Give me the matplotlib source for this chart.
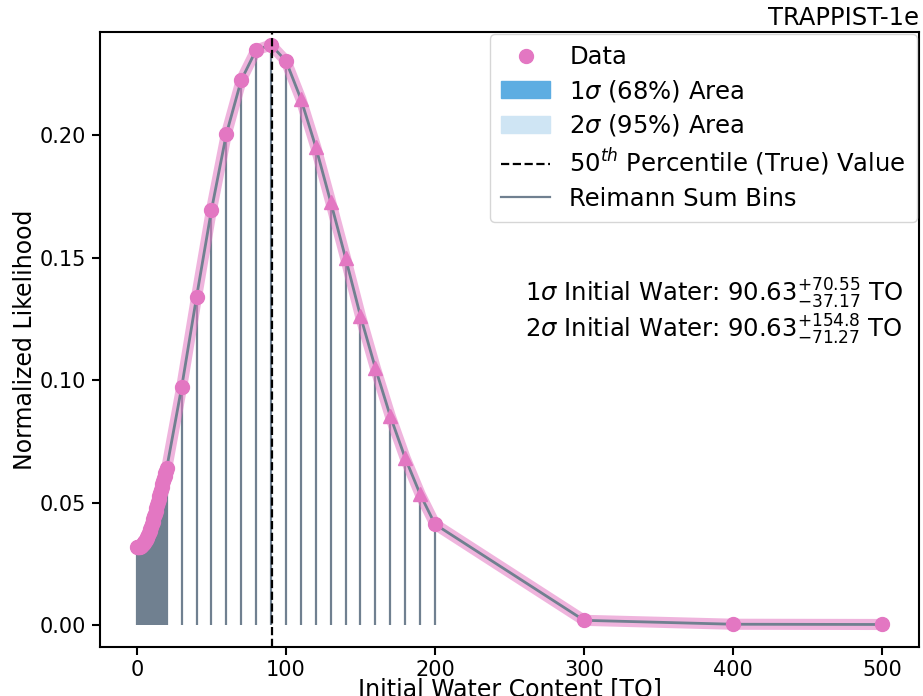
import matplotlib
matplotlib.use("Agg")
import matplotlib.pyplot as plt
import matplotlib.patches as mpatches
import matplotlib.lines as mlines
import numpy as np

# data
x_dense = [0, 0.5, 1, 1.5, 2, 2.5, 3, 3.5, 4, 4.5, 5, 5.5, 6, 6.5, 7, 7.5, 8, 8.5, 9, 9.5,
           10, 10.5, 11, 11.5, 12, 12.5, 13, 13.5, 14, 14.5, 15, 15.5, 16, 16.5, 17, 17.5,
           18, 18.5, 19, 19.5, 20]
y_dense = [0.0318, 0.0318, 0.0319, 0.0320, 0.0321, 0.0323, 0.0325, 0.0327, 0.0330, 0.0334,
           0.0338, 0.0343, 0.0348, 0.0354, 0.0361, 0.0368, 0.0376, 0.0384, 0.0393, 0.0402,
           0.0412, 0.0422, 0.0433, 0.0444, 0.0455, 0.0467, 0.0479, 0.0491, 0.0503, 0.0515,
           0.0527, 0.0539, 0.0551, 0.0563, 0.0575, 0.0587, 0.0599, 0.0610, 0.0620, 0.0631,
           0.0641]
x_coarse = [30, 40, 50, 60, 70, 80, 90, 100, 110, 120, 130, 140, 150, 160, 170, 180,
            190, 200, 300, 400, 500]
y_coarse = [0.0971, 0.1339, 0.1694, 0.2004, 0.2224, 0.2347, 0.2367, 0.2302, 0.2147,
            0.1951, 0.1727, 0.1498, 0.1261, 0.1049, 0.0853, 0.0682, 0.0535, 0.0412,
            0.0020, 0.0004, 0.0003]
tri_x = [110, 120, 130, 140, 150, 160, 170, 180, 190]

median = 90.63
err1 = ("70.55", "37.17")
err2 = ("154.8", "71.27")

x_all = np.array(x_dense + x_coarse)
y_all = np.array(y_dense + y_coarse)

pink = "#e377c2"
slate = "slategray"

plt.rcParams["font.family"] = "DejaVu Sans"
fig, ax = plt.subplots(figsize=(9.23, 6.96), dpi=100)
fig.subplots_adjust(left=0.108, right=0.996, top=0.954, bottom=0.07)

# Reimann bins up to 200
bins = x_all <= 200
ax.vlines(x_all[bins], 0, y_all[bins], color=slate, lw=1.6, zorder=1)

ax.plot(x_all, y_all, color=pink, lw=8, alpha=0.55, zorder=2, solid_capstyle="round")
ax.plot(x_all, y_all, color=slate, lw=2, zorder=3)

circ = np.array([not (xx in tri_x) for xx in x_all])
ax.plot(x_all[circ], y_all[circ], "o", color=pink, ms=10, zorder=4)
tri = ~circ
ax.plot(x_all[tri], y_all[tri], "^", color=pink, ms=10, zorder=4)

ax.axvline(median, color="k", ls="--", lw=1.6, zorder=5)

ax.set_xlim(-25, 525)
ax.set_ylim(-0.009, 0.242)
ax.set_yticks([0.0, 0.05, 0.10, 0.15, 0.20])
ax.set_xticks([0, 100, 200, 300, 400, 500])
ax.tick_params(labelsize=15, length=6, width=1.5, pad=3.5)
for s in ax.spines.values():
    s.set_linewidth(1.5)

ax.set_xlabel("Initial Water Content [TO]", fontsize=17, labelpad=-2.5)
ax.set_ylabel("Normalized Likelihood", fontsize=17, labelpad=2)
ax.set_title("TRAPPIST-1e", loc="right", fontsize=17.5, pad=5)

handles = [
    mlines.Line2D([], [], color=pink, marker="o", ls="", ms=10, label="Data"),
    mpatches.Patch(color="#5dade2", label=r"1$\sigma$ (68%) Area"),
    mpatches.Patch(color="#cfe5f4", label=r"2$\sigma$ (95%) Area"),
    mlines.Line2D([], [], color="k", ls="--", lw=1.6, label=r"50$^{th}$ Percentile (True) Value"),
    mlines.Line2D([], [], color=slate, lw=1.6, label="Reimann Sum Bins"),
]
ax.legend(handles=handles, loc="upper right", fontsize=17.5, borderaxespad=0.1,
          handlelength=2.0, labelspacing=0.35, borderpad=0.45)

ax.text(0.98, 0.575, r"1$\sigma$ Initial Water: $%.2f^{+%s}_{-%s}$ TO" % (median, err1[0], err1[1]),
        transform=ax.transAxes, ha="right", va="center", fontsize=17.5)
ax.text(0.98, 0.516, r"2$\sigma$ Initial Water: $%.2f^{+%s}_{-%s}$ TO" % (median, err2[0], err2[1]),
        transform=ax.transAxes, ha="right", va="center", fontsize=17.5)

fig.savefig("out.png", dpi=100)
